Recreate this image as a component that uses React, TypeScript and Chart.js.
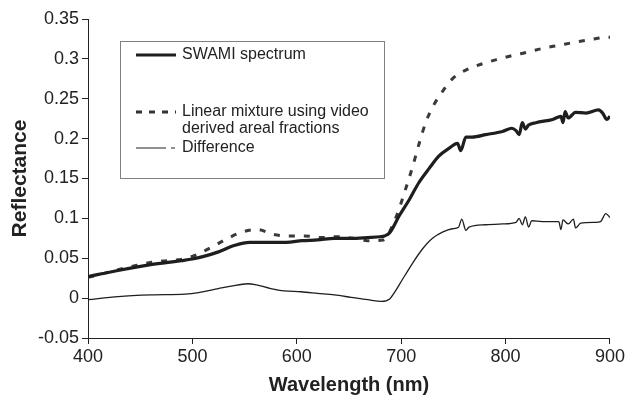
import React, { useEffect, useRef } from "react";
import { Chart, registerables } from "chart.js";

Chart.register(...registerables);

// Wavelength (nm) / reflectance values
const swamiWavelengths = [400, 430, 460, 490, 500, 510, 525, 540, 555, 570, 590, 605, 620, 636, 652, 668, 680, 684, 689, 698, 708, 717, 727, 736, 746, 754, 757, 762, 768, 781, 797, 806, 810, 813, 816, 819, 822, 829, 845, 853, 855, 857, 860, 867, 877, 889, 893, 897, 900];
const swamiValues = [0.027, 0.035, 0.042, 0.047, 0.049, 0.052, 0.058, 0.066, 0.070, 0.070, 0.070, 0.072, 0.073, 0.075, 0.075, 0.076, 0.077, 0.078, 0.082, 0.103, 0.124, 0.145, 0.163, 0.178, 0.188, 0.194, 0.185, 0.202, 0.202, 0.205, 0.209, 0.213, 0.210, 0.205, 0.220, 0.212, 0.217, 0.220, 0.224, 0.228, 0.220, 0.234, 0.226, 0.233, 0.232, 0.236, 0.232, 0.224, 0.228];

const mixtureWavelengths = [400, 446, 461, 476, 491, 505, 520, 534, 548, 563, 577, 592, 607, 623, 639, 654, 668, 683, 692, 698, 705, 711, 717, 724, 732, 740, 749, 762, 778, 794, 806, 823, 835, 851, 867, 881, 896, 900];
const mixtureValues = [0.026, 0.041, 0.045, 0.047, 0.049, 0.055, 0.065, 0.075, 0.083, 0.086, 0.080, 0.078, 0.078, 0.076, 0.077, 0.075, 0.072, 0.073, 0.092, 0.112, 0.140, 0.165, 0.193, 0.222, 0.244, 0.260, 0.275, 0.286, 0.294, 0.300, 0.304, 0.309, 0.313, 0.317, 0.321, 0.324, 0.327, 0.327];

const differenceWavelengths = [400, 429, 461, 493, 506, 525, 537, 553, 560, 575, 588, 604, 620, 636, 652, 668, 681, 689, 695, 701, 711, 720, 730, 740, 749, 755, 758, 762, 765, 781, 797, 810, 813, 816, 819, 822, 825, 835, 851, 853, 855, 860, 865, 867, 872, 886, 891, 896, 900];
const differenceValues = [-0.002, 0.002, 0.004, 0.005, 0.007, 0.012, 0.015, 0.018, 0.017, 0.012, 0.009, 0.008, 0.006, 0.004, 0.001, -0.002, -0.004, -0.001, 0.010, 0.023, 0.044, 0.061, 0.075, 0.083, 0.087, 0.089, 0.099, 0.085, 0.089, 0.092, 0.093, 0.095, 0.100, 0.092, 0.102, 0.089, 0.097, 0.096, 0.096, 0.086, 0.098, 0.093, 0.099, 0.088, 0.094, 0.095, 0.096, 0.106, 0.101];

const seriesNames = ["SWAMI spectrum", "Linear mixture using video derived areal fractions", "Difference"];
const xTicks = [400, 500, 600, 700, 800, 900];
const yTicks = [-0.05, 0, 0.05, 0.1, 0.15, 0.2, 0.25, 0.3, 0.35];

const FONT = "'Liberation Sans', Arial, Helvetica, sans-serif";

function toPoints(xs: number[], ys: number[]) {
  return xs.map((x, i) => ({ x, y: ys[i] }));
}

const legendPlugin = {
  id: "boxLegend",
  afterDraw(chart: any) {
    const { ctx, chartArea } = chart;
    const bx = chartArea.left + 32;
    const by = chartArea.top + 22;
    const bw = 264;
    const bh = 137;
    ctx.save();
    ctx.fillStyle = "#ffffff";
    ctx.fillRect(bx, by, bw, bh);
    ctx.strokeStyle = "#808080";
    ctx.lineWidth = 1;
    ctx.strokeRect(bx + 0.5, by + 0.5, bw, bh);

    const lx0 = bx + 16;
    const lx1 = bx + 56;
    const tx = bx + 62;
    ctx.font = `16px ${FONT}`;
    ctx.fillStyle = "#222";
    ctx.textBaseline = "middle";
    ctx.textAlign = "left";

    // SWAMI
    let y = by + 14;
    ctx.strokeStyle = "#1e1e1e";
    ctx.lineWidth = 3.2;
    ctx.setLineDash([]);
    ctx.beginPath();
    ctx.moveTo(lx0, y);
    ctx.lineTo(lx1, y);
    ctx.stroke();
    ctx.fillText(seriesNames[0], tx, y);

    // Linear mixture
    y = by + 71;
    ctx.strokeStyle = "#333";
    ctx.lineWidth = 3;
    ctx.setLineDash([6, 7]);
    ctx.beginPath();
    ctx.moveTo(lx0, y);
    ctx.lineTo(lx1, y);
    ctx.stroke();
    ctx.setLineDash([]);
    ctx.fillText("Linear mixture using video", tx, y);
    ctx.fillText("derived areal fractions", tx, y + 17);

    // Difference
    y = by + 107;
    ctx.strokeStyle = "#222";
    ctx.lineWidth = 1;
    ctx.beginPath();
    ctx.moveTo(lx0, y);
    ctx.lineTo(lx0 + 30, y);
    ctx.moveTo(lx0 + 35, y);
    ctx.lineTo(lx0 + 39, y);
    ctx.stroke();
    ctx.fillText(seriesNames[2], tx, y);
    ctx.restore();
  },
};

export default function App() {
  const canvasRef = useRef<HTMLCanvasElement | null>(null);

  useEffect(() => {
    if (!canvasRef.current) return;
    const chart = new Chart(canvasRef.current, {
      type: "line",
      data: {
        datasets: [
          {
            label: seriesNames[0],
            data: toPoints(swamiWavelengths, swamiValues),
            borderColor: "#1e1e1e",
            borderWidth: 3.2,
            pointRadius: 0,
            fill: false,
            cubicInterpolationMode: "monotone",
          },
          {
            label: seriesNames[1],
            data: toPoints(mixtureWavelengths, mixtureValues),
            borderColor: "#3a3a3a",
            borderWidth: 3,
            borderDash: [6, 9],
            pointRadius: 0,
            fill: false,
            cubicInterpolationMode: "monotone",
          },
          {
            label: seriesNames[2],
            data: toPoints(differenceWavelengths, differenceValues),
            borderColor: "#1e1e1e",
            borderWidth: 1.3,
            pointRadius: 0,
            fill: false,
            cubicInterpolationMode: "monotone",
          },
        ],
      },
      options: {
        animation: false,
        responsive: true,
        maintainAspectRatio: false,
        layout: { padding: { top: 19, right: 16, bottom: 0, left: 0 } },
        plugins: {
          legend: { display: false },
          tooltip: { enabled: false },
        },
        scales: {
          x: {
            type: "linear",
            min: 400,
            max: 900,
            afterBuildTicks: (scale: any) => {
              scale.ticks = xTicks.map((v) => ({ value: v }));
            },
            afterFit: (scale: any) => {
              scale.height = 62;
            },
            ticks: {
              color: "#222",
              font: { size: 18, family: FONT },
              padding: 2,
              maxRotation: 0,
              autoSkip: false,
            },
            grid: {
              display: true,
              drawOnChartArea: false,
              drawTicks: true,
              tickLength: 6,
              color: "#222",
            },
            border: { display: true, color: "#222", width: 1 },
            title: {
              display: true,
              text: "Wavelength (nm)",
              color: "#222",
              font: { size: 20, weight: "bold", family: FONT },
              padding: { top: 0, bottom: 3 },
            },
          },
          y: {
            type: "linear",
            min: -0.05,
            max: 0.35,
            afterBuildTicks: (scale: any) => {
              scale.ticks = yTicks.map((v) => ({ value: v }));
            },
            afterFit: (scale: any) => {
              scale.width = 88;
            },
            ticks: {
              color: "#222",
              font: { size: 18, family: FONT },
              padding: 3,
              autoSkip: false,
              callback: (v: any) => String(Number(Number(v).toFixed(2))),
            },
            grid: {
              display: true,
              drawOnChartArea: false,
              drawTicks: true,
              tickLength: 6,
              color: "#222",
            },
            border: { display: true, color: "#222", width: 1 },
            title: {
              display: true,
              text: "Reflectance",
              color: "#222",
              font: { size: 21, weight: "bold", family: FONT },
              padding: { top: 8, bottom: 0 },
            },
          },
        },
      },
      plugins: [legendPlugin],
    });
    return () => chart.destroy();
  }, []);

  return (
    <div style={{ position: "fixed", left: 0, top: 0, width: 627, height: 400, background: "#fff" }}>
      <canvas ref={canvasRef} />
    </div>
  );
}
